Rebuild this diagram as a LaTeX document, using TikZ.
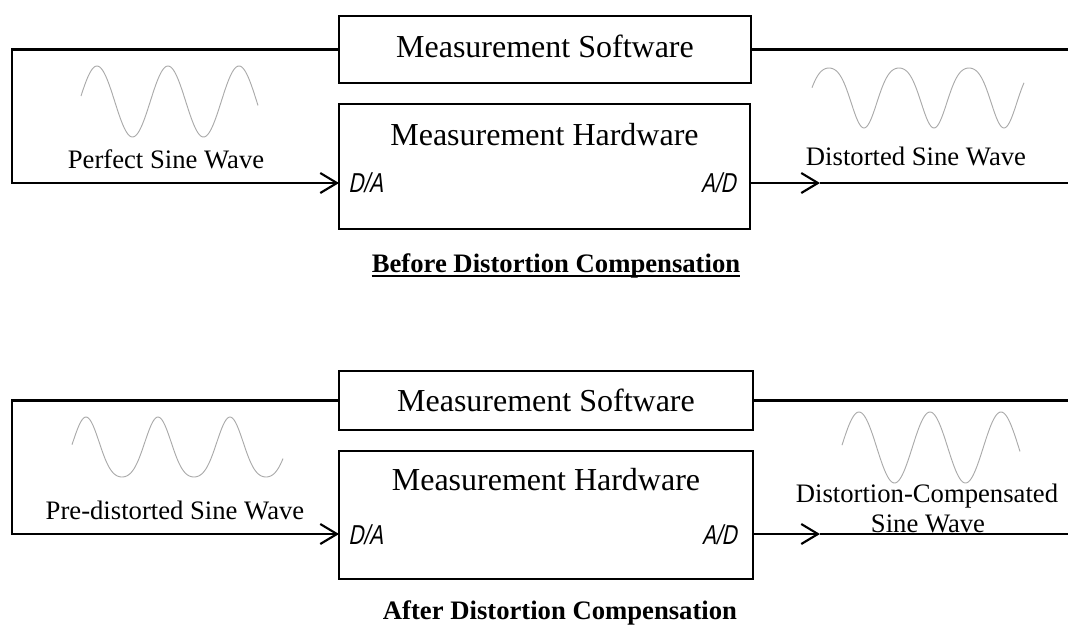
\documentclass[tikz,border=0pt]{standalone}
\usepackage{fontspec}
\setmainfont{Liberation Serif}
\newfontfamily\portfont[FakeStretch=0.76,FakeSlant=0.2]{Liberation Sans}
\usetikzlibrary{arrows.meta}

\definecolor{wavegray}{RGB}{170,170,170}

\begin{document}
\begin{tikzpicture}[x=0.75pt,y=-0.75pt,
  box/.style={draw,line width=0.9pt,inner sep=0pt,outer sep=0pt},
  boxtext/.style={anchor=base,inner sep=0pt,font=\fontsize{24}{28}\selectfont},
  wavetext/.style={anchor=base,inner sep=0pt,font=\fontsize{20}{23}\selectfont},
  titletext/.style={anchor=base,inner sep=0pt,font=\fontsize{20}{23}\selectfont\bfseries},
  port/.style={anchor=base,inner sep=0pt,font=\fontsize{20.5}{24}\portfont},
  signal/.style={line width=1.6pt},
  barb/.style={-{Straight Barb[length=12.5pt,width=15pt,line width=1.6pt]}},
  wave/.style={draw=wavegray,line width=0.7pt}]

\useasboundingbox (0,0) rectangle (1068,626);

% ---------- upper panel ----------
\node[box,minimum width=309pt,minimum height=50.25pt] (sw1) at (545,49.5) {};
\node[box,minimum width=308.25pt,minimum height=93.75pt] (hw1) at (544.5,166.5) {};
\node[boxtext] (sw1t) at (545,57) {Measurement Software};
\node[boxtext] (hw1t) at (544.5,145) {Measurement Hardware};
\node[port,anchor=base west] (da1) at (348,192) {D/A};
\node[port,anchor=base east] (ad1) at (736,192) {A/D};

\coordinate (l1a) at (12,49.5);
\coordinate (l1b) at (12,183);
\coordinate (in1) at (339,183);
\coordinate (out1) at (750,183);
\coordinate (tip1) at (820,183);
\coordinate (r1a) at (1068,49.5);
\coordinate (r1b) at (1068,183);

\draw[signal] (sw1.west) -- (l1a) -- (l1b) -- (in1);
\draw[signal,barb] (l1b) -- (in1);
\draw[signal] (sw1.east) -- (r1a);
\draw[signal,barb] (out1) -- (tip1);
\draw[signal] (tip1) -- (r1b);

% perfect sine
\draw[wave] plot[domain=81:258,samples=160,smooth]
  (\x,{101.5-35.5*cos((\x-97)*5.0704)});
% distorted sine: broad crests, narrow troughs
\draw[wave] plot[domain=812:1024,samples=160,smooth]
  (\x,{98-30*(cos((\x-829)*5.1429)-0.15*cos((\x-829)*10.2857)+0.15)});

\node[wavetext] (pw) at (166,168) {Perfect Sine Wave};
\node[wavetext] (dw) at (916,165) {Distorted Sine Wave};

\node[titletext] (t1) at (556,272) {Before Distortion Compensation};
\draw[line width=1.2pt] ([yshift=-3pt]t1.base west) -- ([yshift=-3pt]t1.base east);

% ---------- lower panel ----------
\node[box,minimum width=310.5pt,minimum height=44.25pt] (sw2) at (546,400.5) {};
\node[box,minimum width=310.5pt,minimum height=96pt] (hw2) at (546,515) {};
\node[boxtext] (sw2t) at (546,411) {Measurement Software};
\node[boxtext] (hw2t) at (546,490) {Measurement Hardware};
\node[port,anchor=base west] (da2) at (348,544) {D/A};
\node[port,anchor=base east] (ad2) at (737,544) {A/D};

\coordinate (l2a) at (12,400.5);
\coordinate (l2b) at (12,534);
\coordinate (in2) at (339,534);
\coordinate (out2) at (753,534);
\coordinate (tip2) at (820,534);
\coordinate (r2a) at (1068,400.5);
\coordinate (r2b) at (1068,534);

\draw[signal] (sw2.west) -- (l2a) -- (l2b) -- (in2);
\draw[signal,barb] (l2b) -- (in2);
\draw[signal] (sw2.east) -- (r2a);
\draw[signal,barb] (out2) -- (tip2);
\draw[signal] (tip2) -- (r2b);

% pre-distorted sine: narrow crests, broad troughs
\draw[wave] plot[domain=72:283,samples=160,smooth]
  (\x,{447-30*(cos((\x-86)*5)+0.15*cos((\x-86)*10)-0.15)});
% compensated sine
\draw[wave] plot[domain=842:1020,samples=160,smooth]
  (\x,{447.5-35.5*cos((\x-859)*5.0704)});

\node[wavetext] (pdw) at (175,519) {Pre-distorted Sine Wave};
\node[wavetext] (cwa) at (927,502) {Distortion-Compensated};
\node[wavetext] (cwb) at (928,532) {Sine Wave};

\node[titletext] (t2) at (560,619) {After Distortion Compensation};

\end{tikzpicture}
\end{document}
